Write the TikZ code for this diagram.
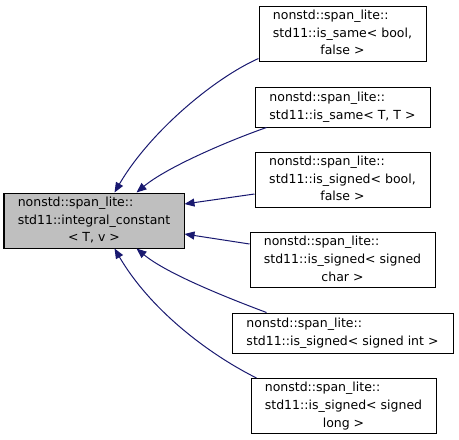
\documentclass[tikz,border=0pt]{standalone}
\usepackage{fontspec}
\setmainfont{DejaVu Sans}
\usetikzlibrary{arrows.meta}
\definecolor{edgeblue}{HTML}{191970}
\definecolor{basegray}{HTML}{BFBFBF}
\newcommand{\lbl}[1]{\renewcommand\arraystretch{1.208}\begin{tabular}{@{}l@{}}#1\end{tabular}}
\newcommand{\cl}[1]{\multicolumn{1}{@{}c@{}}{#1}}
\tikzset{
  cls/.style={draw=black, line width=1pt, rectangle, inner sep=0pt,
    font=\fontsize{12.5pt}{14.5pt}\selectfont},
  edge/.style={draw=edgeblue, line width=1pt,
    -{Triangle[length=10pt,width=8pt]}}
}
\begin{document}
\begin{tikzpicture}[x=1pt,y=-1pt]
\useasboundingbox (0,0) rectangle (459,440);
\node[cls, fill=basegray, minimum width=180pt, minimum height=55pt] (base) at (94,220.5)
  {\lbl{nonstd::span\_lite::\\std11::integral\_constant\\\cl{< T, v >}}};
\node[cls, fill=white, minimum width=167pt, minimum height=55pt] (b1) at (342.5,33.5)
  {\lbl{nonstd::span\_lite::\\std11::is\_same< bool,\\\cl{false >}}};
\node[cls, fill=white, minimum width=175pt, minimum height=40pt] (b2) at (342.5,107)
  {\lbl{nonstd::span\_lite::\\std11::is\_same< T, T >}};
\node[cls, fill=white, minimum width=175pt, minimum height=55pt] (b3) at (342.5,179.5)
  {\lbl{nonstd::span\_lite::\\std11::is\_signed< bool,\\\cl{false >}}};
\node[cls, fill=white, minimum width=185pt, minimum height=55pt] (b4) at (342.5,260)
  {\lbl{nonstd::span\_lite::\\std11::is\_signed< signed\\\cl{char >}}};
\node[cls, fill=white, minimum width=221pt, minimum height=40pt] (b5) at (342.5,333)
  {\lbl{nonstd::span\_lite::\\std11::is\_signed< signed int >}};
\node[cls, fill=white, minimum width=185pt, minimum height=55pt] (b6) at (343.5,406)
  {\lbl{nonstd::span\_lite::\\std11::is\_signed< signed\\\cl{long >}}};
% edges
\draw[edge] ([yshift=3pt]b1.south west) .. controls +(-45,20) and +(35,-60) .. ([xshift=111pt]base.north west);
\draw[edge] ([xshift=12pt]b2.south west) .. controls +(-40,14) and +(30,-25) .. ([xshift=133pt]base.north west);
\draw[edge] ([yshift=-14.5pt]b3.west) -- ([yshift=16.5pt]base.east);
\draw[edge] ([yshift=16pt]b4.west) -- ([yshift=-13.5pt]base.east);
\draw[edge] ([xshift=35pt]b5.north west) .. controls +(-40,-15) and +(30,25) .. ([xshift=133pt]base.south west);
\draw[edge] ([xshift=6pt]b6.north west) .. controls +(-50,-25) and +(35,60) .. ([xshift=111pt]base.south west);
\end{tikzpicture}
\end{document}
